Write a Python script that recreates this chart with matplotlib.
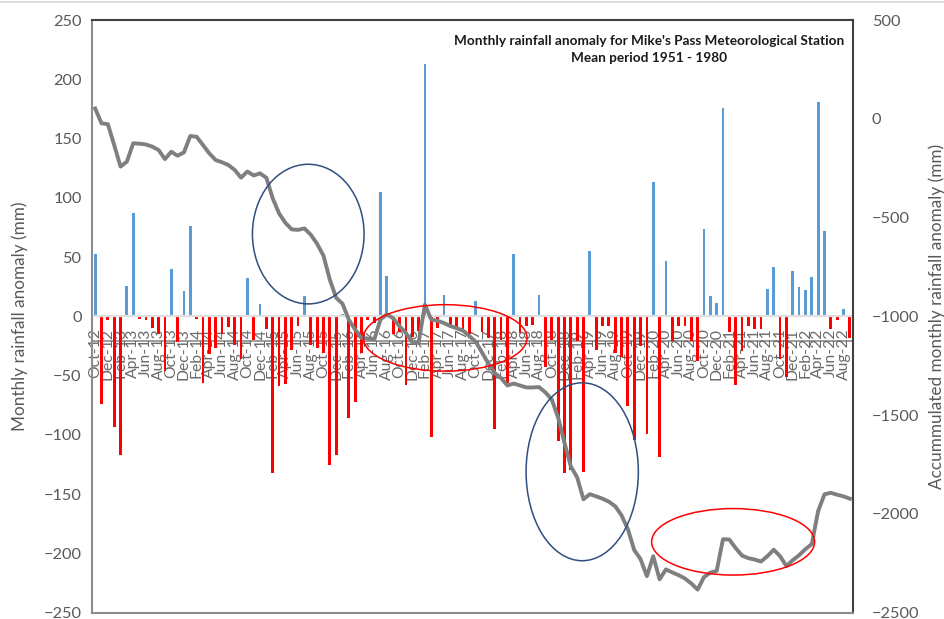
import numpy as np
import pandas as pd
import matplotlib
matplotlib.use('Agg')
import matplotlib.pyplot as plt
from matplotlib.patches import Ellipse
from matplotlib.lines import Line2D

plt.rcParams['font.family'] = ['Lato', 'DejaVu Sans']

# ---------------- data ----------------
months = pd.date_range('2012-10-01', periods=120, freq='MS').strftime('%b-%y').tolist()

anomaly = [53, -74, -3, -93, -117, 26, 87, -2, -3, -10, -15, -46,        # Oct-12 .. Sep-13
           40, -22, 21, 76, -2, -56, -32, -27, -15, -9, -24, -36,         # Oct-13 .. Sep-14
           32, -20, 10, -11, -132, -59, -57, -28, -8, 17, -24, -27,       # Oct-14 .. Sep-15
           -31, -125, -117, 2, -86, -72, -31, -3, -6, 105, 34, -15,       # Oct-15 .. Sep-16
           -13, -58, -17, -12, 213, -102, -10, 18, -8, -10, -11, -15,     # Oct-16 .. Sep-17
           13, -13, -18, -95, -20, -56, 53, -14, -8, -7, 18, -43,         # Oct-17 .. Sep-18
           -20, -105, -132, -130, -21, -131, 55, -28, -8, -8, -31, -34,   # Oct-18 .. Sep-19
           -76, -104, -25, -99, 113, -119, 47, -21, -8, -8, -21, -38,     # Oct-19 .. Sep-20
           74, 17, 11, 176, -13, -58, -29, -8, -11, -11, 23, 42,          # Oct-20 .. Sep-21
           -36, -51, 38, 25, 22, 33, 181, 72, -11, -3, 6, -18]            # Oct-21 .. Sep-22

accumulated = [52, -23, -27, -133, -242, -217, -124, -126, -130, -141, -158, -204,
               -167, -187, -170, -87, -91, -133, -175, -209, -220, -234, -259, -298,
               -267, -287, -276, -299, -403, -479, -527, -560, -562, -555, -587, -633,
               -693, -814, -906, -936, -1017, -1067, -1109, -1112, -1118, -1015, -990, -1010,
               -1050, -1084, -1131, -1134, -941, -1017, -1022, -1034, -1049, -1060, -1072, -1100,
               -1128, -1183, -1239, -1287, -1312, -1350, -1340, -1350, -1360, -1360, -1358, -1385,
               -1421, -1512, -1640, -1759, -1815, -1926, -1900, -1911, -1923, -1938, -1961, -2007,
               -2077, -2183, -2229, -2315, -2214, -2331, -2281, -2296, -2310, -2327, -2352, -2383,
               -2320, -2297, -2289, -2128, -2130, -2173, -2211, -2224, -2231, -2241, -2214, -2181,
               -2214, -2264, -2234, -2209, -2178, -2153, -1986, -1901, -1893, -1903, -1911, -1923]

left_ticks = list(range(-250, 251, 50))
right_ticks = list(range(-2500, 501, 500))

# highlight ellipses: (centre month index, centre anomaly mm, width months, height mm, colour)
ellipses = [(33.6, 69.4, 17.6, 117.8, '#2F4F7F'),
            (55.2, -18.2, 25.8, 56.1, '#FF0000'),
            (76.8, -131.1, 17.7, 150.1, '#2F4F7F'),
            (100.6, -190.2, 25.7, 56.1, '#FF0000')]

title1 = "Monthly rainfall anomaly for Mike's Pass Meteorological Station"
title2 = "Mean period 1951 - 1980"

# ---------------- figure ----------------
W, H = 945, 619
fig = plt.figure(figsize=(W / 100, H / 100), dpi=100)
L, R, T, B = 92, 853, 20, 612.7
ax = fig.add_axes([L / W, 1 - B / H, (R - L) / W, (B - T) / H])
ax2 = ax.twinx()

# category axis sits on the zero line
for s in ['left', 'right', 'top']:
    ax.spines[s].set_visible(False)
ax.spines['bottom'].set_position(('data', 0))
ax.spines['bottom'].set_color('none')

x = np.arange(len(anomaly))
vals = np.array(anomaly)
colors = np.where(vals >= 0, '#5B9BD5', '#FF0000')
ax.bar(x, vals, width=0.44, color=colors, zorder=2)
ax.axhline(0, color='#e0e0e0', lw=1.6, zorder=3)
ax.axhline(-21, color='#8c8c8c', lw=1.2, zorder=1)

ax.set_xlim(-0.5, len(anomaly) - 0.5)
ax.set_ylim(-250, 250)
ax.set_yticks(left_ticks)
ax.set_xticks(x[::2])
ax.set_xticklabels(months[::2])
ax.tick_params(axis='x', length=0, pad=8.5, labelsize=11.3, colors='#6a6a6a',
               labelrotation=90)
for lab in ax.get_xticklabels():
    lab.set_va('top')
    lab.set_ha('center')
ax.tick_params(axis='y', length=0, pad=7.5, labelsize=11.8, colors='#595959')

ax2.plot(x, accumulated, color='#7F7F7F', lw=2.8, zorder=4, solid_joinstyle='round')
ax2.set_ylim(-2500, 500)
ax2.set_yticks(right_ticks)
ax2.tick_params(axis='y', length=0, pad=13.5, labelsize=11.8, colors='#595959')
ax2.spines['left'].set_color('#8c8c8c')
ax2.spines['bottom'].set_color('#8c8c8c')
ax2.spines['top'].set_color('#404040')
ax2.spines['right'].set_color('#404040')
for s in ax2.spines.values():
    s.set_linewidth(1.5)

for cx, cy, w, h, c in ellipses:
    e = Ellipse((cx, cy), w, h, transform=ax.transData, fill=False,
                edgecolor=c, lw=1.1, zorder=6, clip_on=False)
    ax2.add_patch(e)

fig.text(20 / W, 1 - 316 / H, 'Monthly rainfall anomaly (mm)', rotation=90,
         ha='center', va='center', fontsize=12.3, color='#595959')
fig.text(937 / W, 1 - 316 / H, 'Accummulated monthly rainfall anomaly (mm)', rotation=90,
         ha='center', va='center', fontsize=12.3, color='#595959')
fig.text(649.5 / W, 1 - 41 / H, title1, ha='center', va='center',
         fontsize=9.8, fontweight='bold', color='#1a1a1a')
fig.text(649.5 / W, 1 - 58 / H, title2, ha='center', va='center',
         fontsize=9.8, fontweight='bold', color='#1a1a1a')

fig.add_artist(Line2D([0, 1], [1 - 2 / H, 1 - 2 / H], color='#d9d9d9', lw=1.2))

fig.savefig('out.png', dpi=100)
